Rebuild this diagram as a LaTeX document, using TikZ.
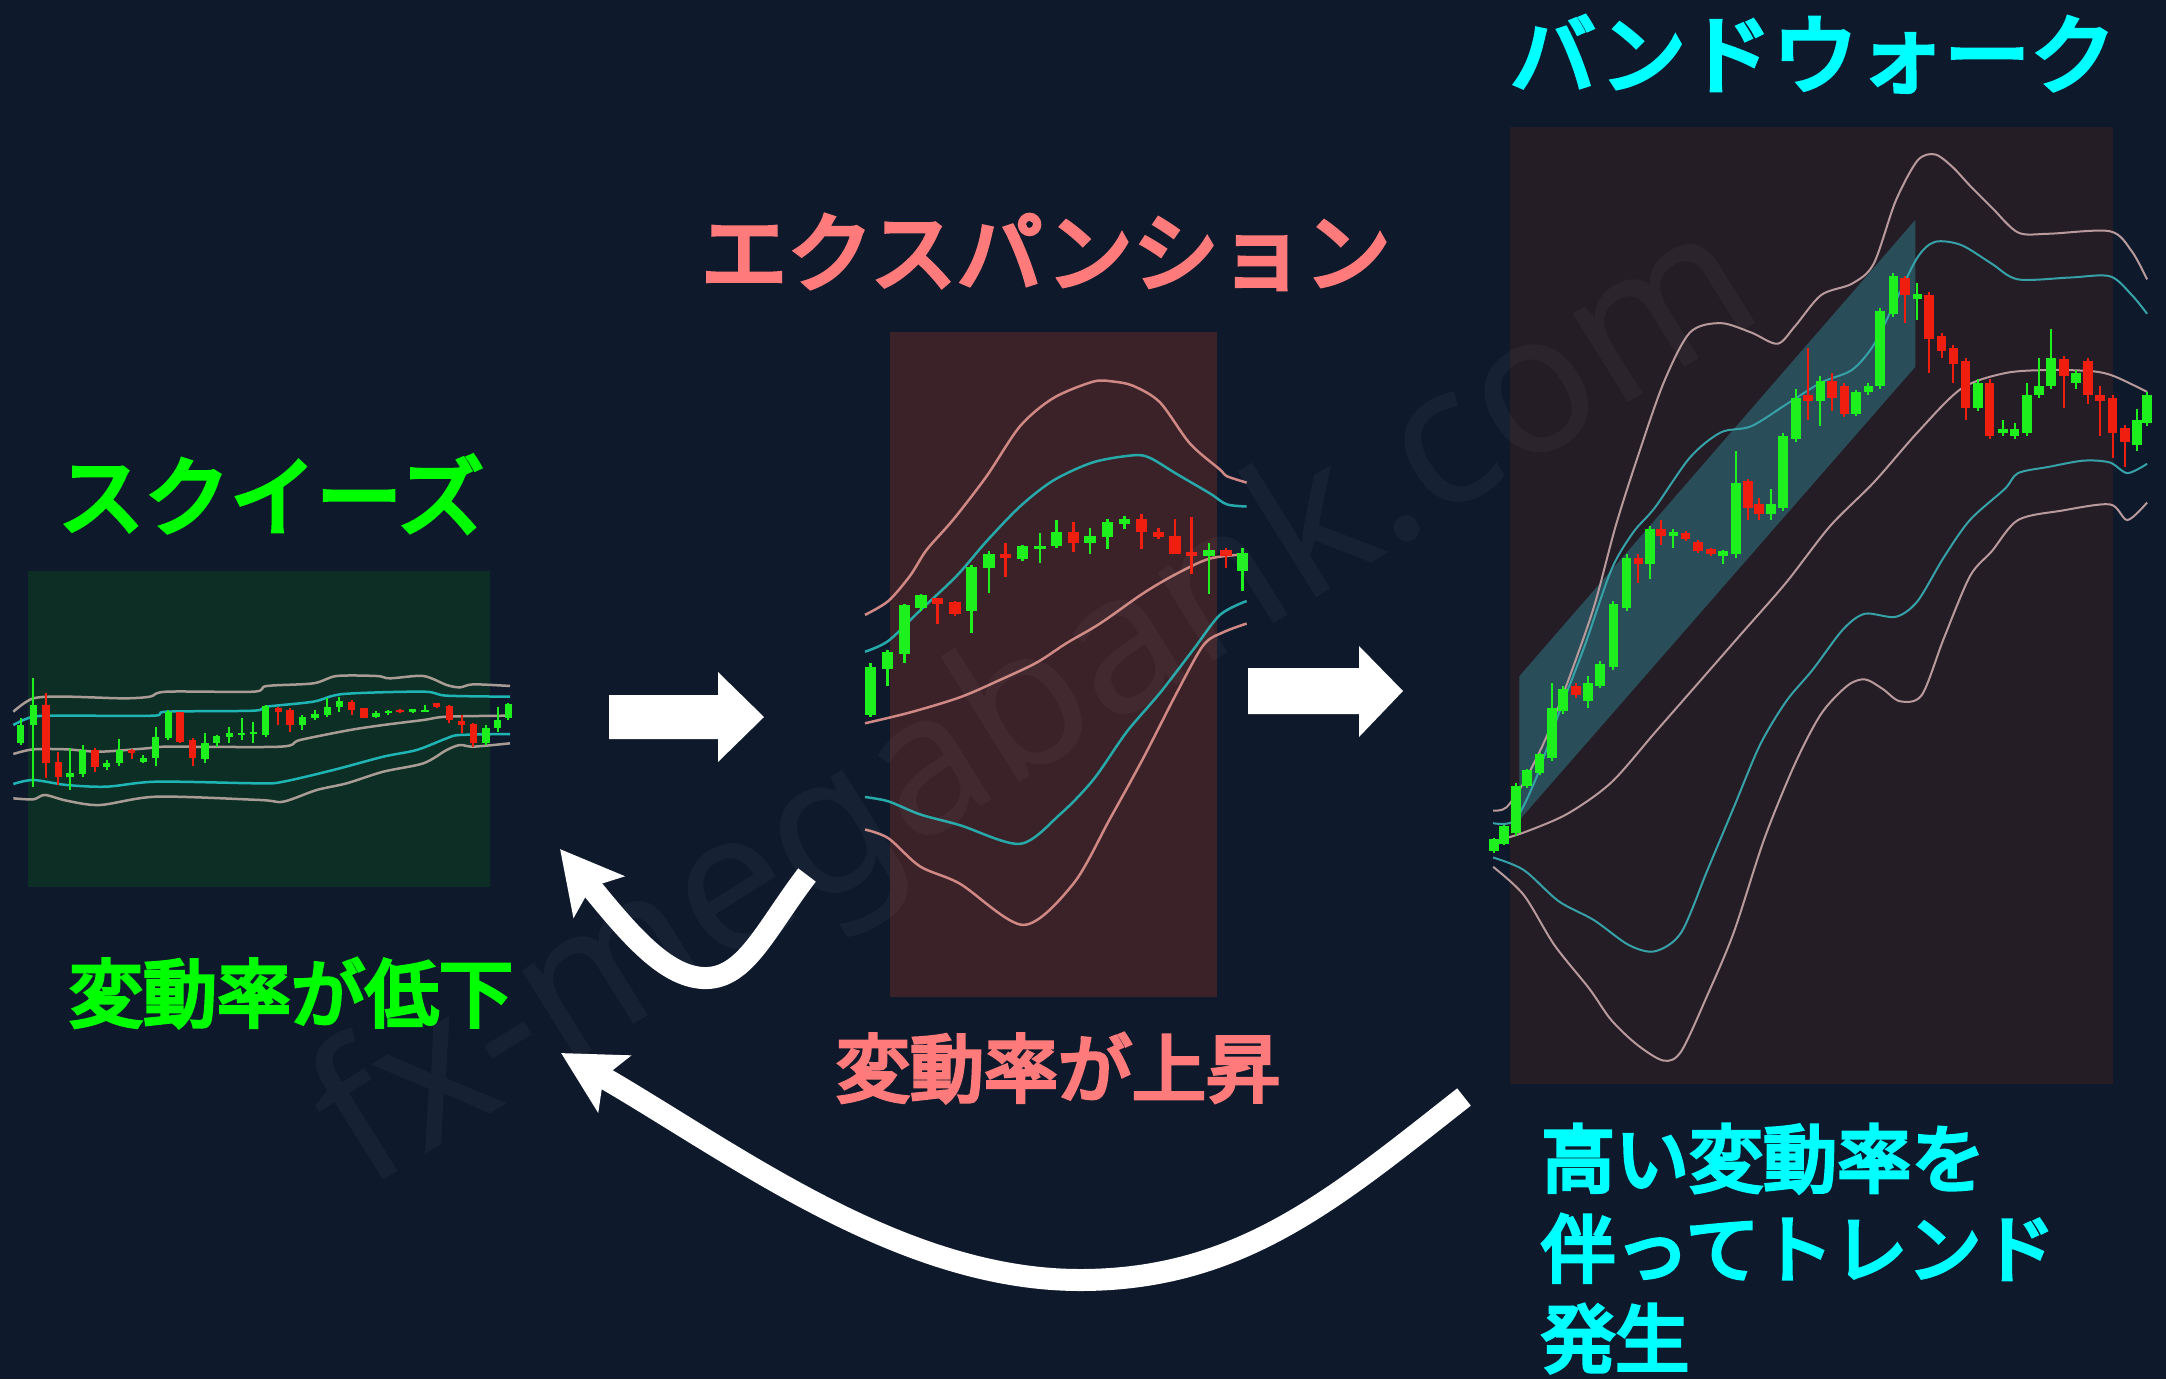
\documentclass[tikz,border=0pt]{standalone}
\usepackage{fontspec}
\newfontfamily\jp{Noto Sans CJK JP}[FakeBold=5]
\newfontfamily\wmfont{Noto Sans}
\usetikzlibrary{arrows.meta}
\definecolor{bg}{HTML}{0E1A2C}
\definecolor{sqzbox}{HTML}{0C2E25}
\definecolor{expbox}{HTML}{3B2228}
\definecolor{bwbox}{HTML}{251D26}
\definecolor{tgreen}{HTML}{00FF00}
\definecolor{tpink}{HTML}{FF7B7B}
\definecolor{tcyan}{HTML}{00FFFF}
\definecolor{candG}{HTML}{1EF01E}
\definecolor{candR}{HTML}{F01E0E}
\definecolor{sqouter}{HTML}{A89C94}
\definecolor{sqcyan}{HTML}{1FB5B5}
\definecolor{exouter}{HTML}{CF8883}
\definecolor{excyan}{HTML}{27A9AA}
\definecolor{bwouter}{HTML}{B89A9C}
\definecolor{bwcyan}{HTML}{36A2A8}
\definecolor{channel}{HTML}{2B5763}
\begin{document}
\begin{tikzpicture}[x=1pt,y=-1pt,
  titletext/.style={inner sep=0pt, font=\jp\fontsize{86}{86}\selectfont},
  labeltext/.style={inner sep=0pt, font=\jp\fontsize{74}{74}\selectfont},
  chartbox/.style={draw=none, inner sep=0pt, anchor=north west},
  wick/.style={line width=2pt},
  band/.style={line width=2.5pt, smooth, tension=0.5},
  blockarrow/.style={fill=white, draw=none},
  cyclearrow/.style={draw=white, line width=22pt, line cap=butt,
     -{Stealth[length=61pt,width=64pt,inset=12pt]}}
]
\useasboundingbox (0,0) rectangle (2166,1379);
\fill[bg] (0,0) rectangle (2166,1379);

% chart boxes
\node[chartbox, fill=sqzbox, minimum width=462pt, minimum height=316pt] (sqz) at (28,571) {};
\node[chartbox, fill=expbox, minimum width=327pt, minimum height=665pt] (exp) at (890,332) {};
\node[chartbox, fill=bwbox, minimum width=603pt, minimum height=957pt] (bw) at (1510,127) {};

% ---------- squeeze chart ----------
\begin{scope}[shift={(0,550)}, xscale=1/3, yscale=1/3]
\draw[band, sqouter] plot coordinates {(40,485) (100,445) (200,440) (370,445) (450,440) (500,425) (760,425) (800,408) (940,400) (1010,378) (1130,378) (1170,385) (1270,378) (1340,405) (1380,412) (1420,403) (1530,408)};
\draw[band, sqcyan] plot coordinates {(40,525) (100,500) (200,497) (460,497) (500,485) (760,482) (800,470) (940,455) (1030,432) (1270,425) (1340,437) (1530,440)};
\draw[band, sqouter] plot coordinates {(40,612) (100,598) (200,598) (300,605) (440,595) (500,590) (840,590) (900,570) (1050,540) (1150,525) (1270,510) (1340,500) (1530,497)};
\draw[band, sqcyan] plot coordinates {(40,702) (100,690) (200,705) (320,710) (470,695) (780,700) (850,695) (1000,660) (1150,620) (1250,600) (1340,565) (1380,555) (1530,552)};
\draw[band, sqouter] plot coordinates {(40,745) (100,748) (135,735) (200,752) (300,765) (470,740) (780,750) (850,755) (950,720) (1040,700) (1150,665) (1270,640) (1340,600) (1380,585) (1420,590) (1530,580)};
\foreach \x/\bt/\bb/\wt/\wb/\c in {62/525/578/505/585/G, 100/465/525/385/710/G, 138/465/640/428/685/R, 175/635/680/605/705/R, 210/668/680/595/720/G, 248/600/672/585/680/G, 285/600/650/595/665/R, 320/638/650/630/660/G, 358/600/640/568/648/G, 395/600/608/598/628/R, 430/625/636/615/640/G, 467/560/625/530/648/G, 505/485/565/480/570/G, 540/485/575/485/580/R, 578/570/625/565/648/R, 615/578/628/550/640/G, 650/558/580/555/590/G, 688/550/560/530/580/G, 725/548/556/505/570/G, 760/547/553/515/580/G, 797/468/555/465/560/G, 835/475/485/470/525/R, 870/480/525/475/545/R, 907/500/525/495/540/G, 945/492/503/480/510/G, 982/470/495/445/500/G, 1018/453/470/440/485/G, 1055/455/480/450/495/R, 1092/475/505/475/505/R, 1128/488/502/483/505/G, 1165/482/490/480/495/G, 1200/481/487/478/488/R, 1238/478/486/478/488/G, 1275/481/486/465/486/G, 1310/460/470/458/475/R, 1348/468/510/465/520/R, 1385/512/525/495/550/R, 1420/522/580/518/590/R, 1458/535/580/525/585/G, 1493/510/535/470/545/G, 1525/462/505/460/510/G}
{
  \draw[wick, cand\c] (\x,\wt) -- (\x,\wb);
  \fill[cand\c] (\x-11,\bt) rectangle (\x+11,\bb);
}
\end{scope}

% ---------- expansion chart ----------
\begin{scope}[shift={(860,320)}, xscale=1/3, yscale=1/2.306]
\draw[band, exouter] plot coordinates {(15,680) (85,648) (150,590) (200,530) (280,460) (380,360) (480,245) (580,180) (700,142) (760,142) (820,152) (900,190) (990,285) (1080,345) (1100,360) (1160,375)};
\draw[band, excyan] plot coordinates {(15,765) (85,740) (180,670) (290,590) (380,510) (480,430) (580,370) (700,328) (820,312) (870,318) (950,355) (1050,400) (1100,425) (1160,430)};
\draw[band, exouter] plot coordinates {(15,930) (150,905) (300,870) (420,830) (530,790) (620,745) (720,700) (850,630) (950,585) (1050,550) (1160,540)};
\draw[band, excyan] plot coordinates {(15,1100) (85,1110) (180,1140) (300,1165) (480,1208) (600,1140) (700,1060) (800,950) (900,860) (1000,760) (1080,680) (1160,648)};
\draw[band, exouter] plot coordinates {(15,1175) (85,1195) (180,1260) (300,1300) (490,1395) (640,1300) (750,1150) (850,1010) (950,860) (1030,750) (1090,720) (1160,700)};
\foreach \x/\bt/\bb/\wt/\wb/\c in {32/800/912/790/915/G, 82/765/805/760/845/G, 133/658/770/655/790/G, 183/635/665/632/672/G, 233/640/655/640/700/R, 285/650/678/648/682/R, 335/570/670/565/722/G, 387/540/572/532/630/G, 437/540/548/515/592/R, 488/520/550/518/555/G, 540/520/527/492/560/G, 590/488/522/462/525/G, 640/490/515/465/535/R, 690/498/515/480/540/G, 742/465/500/460/528/G, 793/460/470/452/482/G, 845/458/490/447/528/R, 895/488/500/480/505/R, 945/498/540/460/540/R, 995/535/545/455/585/R, 1047/530/545/515/632/G, 1098/530/545/525/572/R, 1148/538/578/525/625/G}
{
  \draw[wick, line width=2.5pt, cand\c] (\x,\wt) -- (\x,\wb);
  \fill[cand\c] (\x-17,\bt) rectangle (\x+17,\bb);
}
\end{scope}

% ---------- band walk chart ----------
\begin{scope}[shift={(1480,120)}, xscale=1/2.286, yscale=1/1.6]
\fill[channel, opacity=0.85] (90,890) -- (995,160) -- (995,395) -- (90,1120) -- cycle;
\draw[band, line width=2pt, bwouter] plot coordinates {(30,1105) (60,1100) (100,1060) (150,990) (200,900) (260,780) (310,650) (360,540) (420,420) (480,340) (550,325) (620,340) (680,358) (720,330) (780,280) (850,262) (900,230) (950,130) (1000,65) (1040,55) (1080,75) (1120,105) (1170,140) (1230,180) (1300,182) (1440,178) (1490,210) (1525,255)};
\draw[band, line width=2pt, bwcyan] plot coordinates {(30,1125) (80,1120) (130,1050) (180,950) (240,840) (300,720) (350,660) (400,620) (480,540) (550,500) (620,490) (700,455) (780,420) (850,400) (900,360) (950,290) (1000,220) (1040,195) (1100,200) (1170,230) (1230,255) (1350,252) (1440,250) (1490,280) (1525,310)};
\draw[band, line width=2pt, bwouter] plot coordinates {(30,1155) (100,1140) (200,1110) (300,1060) (400,980) (500,900) (600,820) (700,740) (800,650) (900,580) (1000,500) (1100,430) (1200,405) (1300,400) (1400,402) (1450,410) (1525,435)};
\draw[band, line width=2pt, bwcyan] plot coordinates {(30,1180) (100,1200) (180,1250) (260,1280) (340,1320) (400,1330) (460,1300) (520,1200) (580,1100) (640,1000) (700,930) (760,880) (830,815) (880,790) (950,795) (1000,770) (1060,700) (1120,640) (1200,590) (1230,565) (1300,555) (1380,545) (1440,548) (1480,565) (1525,550)};
\draw[band, line width=2pt, bwouter] plot coordinates {(30,1195) (100,1240) (170,1320) (250,1390) (300,1440) (360,1480) (420,1505) (460,1490) (520,1400) (580,1300) (650,1150) (720,1030) (780,950) (840,905) (880,895) (920,910) (960,930) (1010,920) (1060,830) (1120,730) (1170,690) (1230,640) (1330,625) (1440,615) (1480,640) (1525,612)};
\foreach \x/\bt/\bb/\wt/\wb/\c in {32/1150/1170/1148/1172/G, 55/1130/1158/1128/1160/G, 82/1065/1140/1060/1145/G, 108/1040/1065/1038/1068/G, 136/1015/1045/1012/1048/G, 165/940/1020/900/1025/G, 190/910/945/905/950/G, 220/905/920/900/924/R, 247/900/930/890/940/G, 275/870/905/866/908/G, 305/775/875/770/880/G, 335/700/780/695/785/G, 362/700/710/695/740/R, 388/655/710/650/735/G, 414/655/665/640/680/R, 442/659/666/655/685/G, 470/660/670/657/673/R, 498/675/690/672/693/R, 528/687/695/685/698/R, 556/690/698/688/710/G, 585/580/695/530/700/G, 612/578/620/575/640/R, 638/615/630/605/640/R, 665/615/630/590/640/G, 693/505/620/500/625/G, 722/445/510/430/515/G, 750/440/450/365/480/R, 778/418/450/410/490/G, 805/418/445/405/465/R, 833/425/470/420/475/R, 860/435/470/432/473/G, 888/425/435/420/440/G, 915/305/425/300/430/G, 945/250/310/245/315/G, 972/252/280/250/325/R, 1000/279/286/260/320/G, 1027/280/350/275/405/R, 1055/345/370/340/380/R, 1082/365/390/360/420/R, 1110/385/460/380/480/R, 1138/420/460/415/465/G, 1165/420/505/415/510/R, 1195/494/501/480/505/G, 1222/495/505/485/510/G, 1250/440/500/420/505/G, 1278/425/440/380/445/G, 1306/380/425/335/430/G, 1335/382/410/378/460/R, 1362/405/420/400/430/G, 1390/385/440/380/455/R, 1418/440/450/425/505/R, 1446/445/500/440/540/R, 1474/492/515/488/555/R, 1502/480/520/462/530/G, 1525/440/485/435/490/G}
{
  \draw[wick, cand\c] (\x,\wt) -- (\x,\wb);
  \fill[cand\c] (\x-11,\bt) rectangle (\x+11,\bb);
}
\end{scope}

% ---------- block arrows ----------
\fill[blockarrow] (609,695) -- (718,695) -- (718,672) -- (764,717) -- (718,762) -- (718,739) -- (609,739) -- cycle;
\fill[blockarrow] (1248,668) -- (1359,668) -- (1359,646) -- (1403,691) -- (1359,737) -- (1359,714) -- (1248,714) -- cycle;

% ---------- curved cycle arrows ----------
\coordinate (a1s) at (807,875);
\coordinate (a1m) at (703,978);
\coordinate (a1e) at (560,849);
\draw[cyclearrow] (a1s) .. controls (765,930) and (745,980) .. (a1m) .. controls (665,976) and (630,935) .. (a1e);
\coordinate (a2s) at (1464,1097);
\coordinate (a2m) at (1080,1280);
\coordinate (a2e) at (561,1053);
\draw[cyclearrow] (a2s) .. controls (1334,1199) and (1240,1280) .. (a2m) .. controls (900,1280) and (734,1153) .. (a2e);

% ---------- texts ----------
\node[titletext, text=tgreen] (t1) at (271,494) {スクイーズ};
\node[titletext, text=tpink] (t2) at (1046,252) {エクスパンション};
\node[titletext, text=tcyan] (t3) at (1813,54) {バンドウォーク};
\node[labeltext, text=tgreen] (l1) at (291,993) {変動率が低下};
\node[labeltext, text=tpink] (l2) at (1058,1068) {変動率が上昇};
\node[labeltext, text=tcyan, anchor=north west, align=left, font=\jp\fontsize{74}{90}\selectfont] (l3) at (1541,1124) {高い変動率を\\伴ってトレンド\\発生};

% ---------- watermark ----------
\node[inner sep=0pt, rotate=32, text=white, text opacity=0.035, font=\wmfont\fontsize{195}{195}\selectfont] (wm) at (1040,710) {fx-megabank.com};
\end{tikzpicture}
\end{document}
